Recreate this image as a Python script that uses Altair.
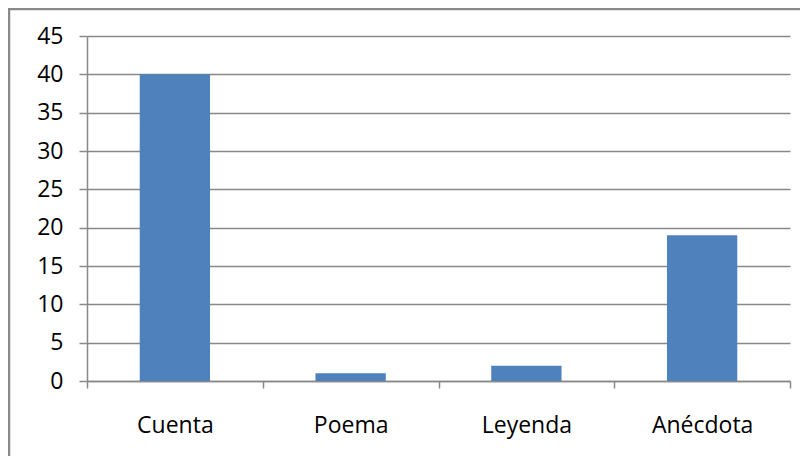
import altair as alt
import pandas as pd

categories = ["Cuenta", "Poema", "Leyenda", "Anécdota"]
values = [40, 1, 2, 19]
y_ticks = [0, 5, 10, 15, 20, 25, 30, 35, 40, 45]

df = pd.DataFrame({"cat": categories, "val": values})

GRAY = "#898989"
FONT = "Open Sans"

bars = alt.Chart(df).mark_bar(
    color="#4F81BD", width=alt.RelativeBandSize(0.4)
).encode(
    x=alt.X("cat:N", sort=categories,
            scale=alt.Scale(paddingInner=0, paddingOuter=0),
            axis=alt.Axis(title=None, labelAngle=0, tickBand="extent",
                          domainColor=GRAY, domainWidth=1.5,
                          tickColor=GRAY, tickWidth=1.5, tickSize=7,
                          labelFont=FONT, labelFontSize=23, labelColor="black",
                          labelBaseline="alphabetic", labelPadding=44,
                          grid=False)),
    y=alt.Y("val:Q",
            scale=alt.Scale(domain=[0, 45], nice=False),
            axis=alt.Axis(title=None, values=y_ticks, grid=True,
                          gridColor=GRAY, gridWidth=1.5,
                          domainColor=GRAY, domainWidth=1.5,
                          tickColor=GRAY, tickWidth=1.5, tickSize=8,
                          labelFont=FONT, labelFontSize=23, labelColor="black",
                          labelPadding=16)),
)

border_df = pd.DataFrame({"k": [0]})
left_border = alt.Chart(border_df).mark_rule(color=GRAY, strokeWidth=2.5).encode(
    x=alt.value(-78), y=alt.value(-28), y2=alt.value(420)
)
top_border = alt.Chart(border_df).mark_rule(color=GRAY, strokeWidth=2.5).encode(
    x=alt.value(-79), x2=alt.value(720), y=alt.value(-27)
)

chart = alt.layer(bars, left_border, top_border).properties(
    width=703, height=345,
    padding={"left": 79, "top": 28, "right": 10, "bottom": 75},
    autosize=alt.AutoSizeParams(type="none"),
    background="white",
).configure_view(strokeWidth=0)

chart.save("out.html", embed_options={"renderer": "svg", "actions": False})
